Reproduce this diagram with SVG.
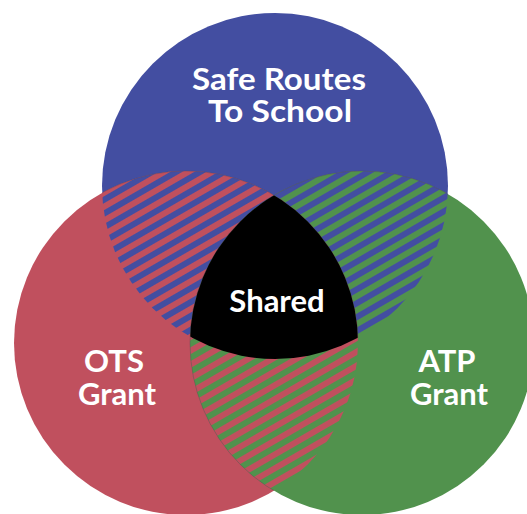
<svg xmlns="http://www.w3.org/2000/svg" width="527" height="514" viewBox="0 0 527 514">
  <style>
    .lbl { font-family: Lato, "Open Sans", "Liberation Sans", sans-serif; font-weight: bold; fill: #ffffff; text-anchor: middle; font-size: 31px; }
    .edge { fill: none; stroke: #5a4a5a; stroke-width: 0.6; stroke-opacity: 0.6; }
  </style>
  <defs>
    <pattern id="pBR" patternUnits="userSpaceOnUse" width="12" height="12" patternTransform="rotate(-30)">
      <rect x="0" y="0" width="12" height="6" fill="#c0505e"/>
      <rect x="0" y="6" width="12" height="6" fill="#434ea1"/>
    </pattern>
    <pattern id="pBG" patternUnits="userSpaceOnUse" width="12" height="12" patternTransform="rotate(-30)">
      <rect x="0" y="0" width="12" height="6" fill="#51924d"/>
      <rect x="0" y="6" width="12" height="6" fill="#434ea1"/>
    </pattern>
    <pattern id="pRG" patternUnits="userSpaceOnUse" width="12" height="12" patternTransform="rotate(-30)">
      <rect x="0" y="0" width="12" height="6" fill="#c0505e"/>
      <rect x="0" y="6" width="12" height="6" fill="#51924d"/>
    </pattern>
    <clipPath id="cBlue"><circle cx="275" cy="186" r="173"/></clipPath>
    <clipPath id="cRed"><circle cx="186" cy="343" r="172"/></clipPath>
  </defs>

  <g id="safe-routes">
    <circle cx="275" cy="186" r="173" fill="#434ea1"/>
  </g>
  <g id="ots-grant">
    <circle cx="186" cy="343" r="172" fill="#c0505e"/>
  </g>
  <g id="atp-grant">
    <circle cx="362" cy="343" r="172" fill="#51924d"/>
  </g>

  <g id="overlaps">
    <circle cx="186" cy="343" r="172" fill="url(#pBR)" clip-path="url(#cBlue)"/>
    <circle cx="362" cy="343" r="172" fill="url(#pBG)" clip-path="url(#cBlue)"/>
    <circle cx="362" cy="343" r="172" fill="url(#pRG)" clip-path="url(#cRed)"/>
    <circle cx="186" cy="343" r="172" class="edge" clip-path="url(#cBlue)"/>
    <circle cx="362" cy="343" r="172" class="edge" clip-path="url(#cBlue)"/>
    <circle cx="362" cy="343" r="172" class="edge" clip-path="url(#cRed)"/>
  </g>

  <g id="shared">
    <g clip-path="url(#cBlue)">
      <circle cx="362" cy="343" r="172" fill="#000000" clip-path="url(#cRed)"/>
    </g>
    <text class="lbl" x="277" y="312">Shared</text>
  </g>

  <g id="labels">
    <text class="lbl" x="279" y="90" textLength="174" lengthAdjust="spacingAndGlyphs">Safe Routes</text>
    <text class="lbl" x="280" y="122" textLength="144" lengthAdjust="spacingAndGlyphs">To School</text>
    <text class="lbl" x="114" y="372">OTS</text>
    <text class="lbl" x="117" y="405">Grant</text>
    <text class="lbl" x="447" y="372">ATP</text>
    <text class="lbl" x="449" y="405">Grant</text>
  </g>
</svg>
